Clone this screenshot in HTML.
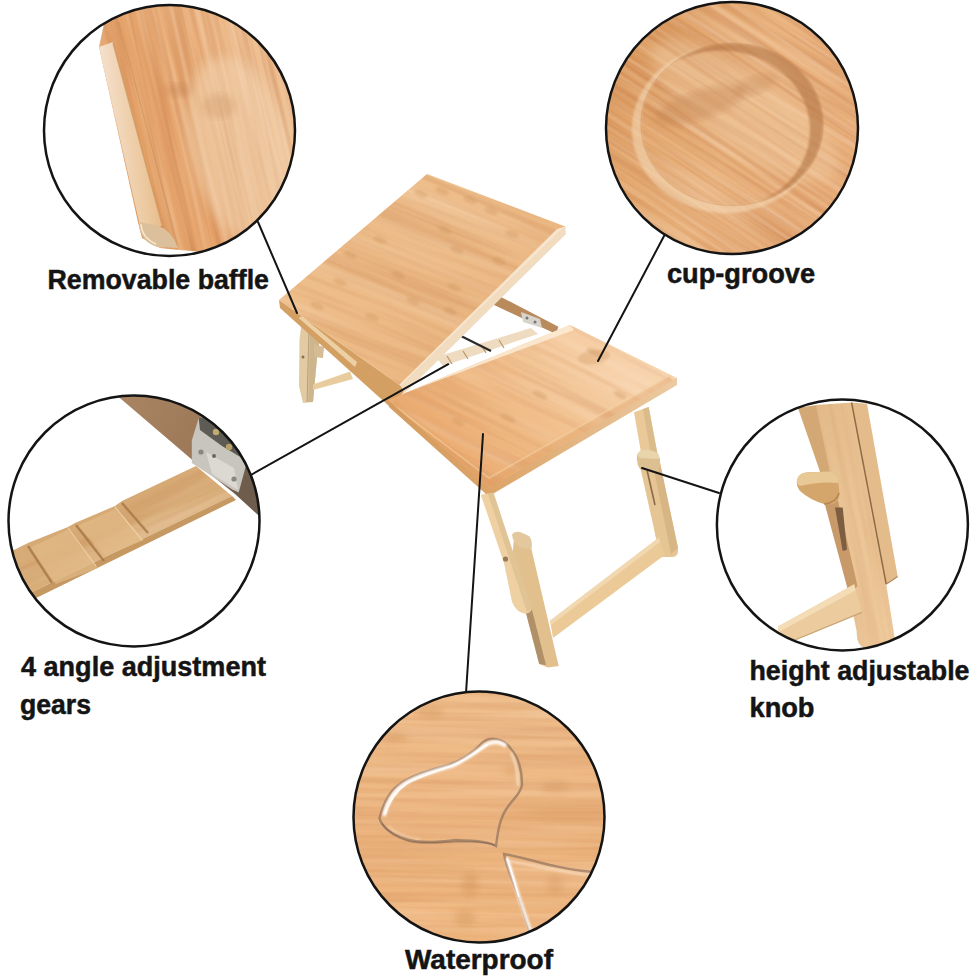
<!DOCTYPE html>
<html><head><meta charset="utf-8">
<style>
html,body{margin:0;padding:0;background:#fff;}
body{width:977px;height:977px;overflow:hidden;}
svg{display:block;}
text{font-family:"Liberation Sans",sans-serif;font-weight:bold;fill:#141414;stroke:#141414;stroke-width:0.5;}
</style></head>
<body>
<svg width="977" height="977" viewBox="0 0 977 977">
<defs>
  <clipPath id="c1"><circle cx="169.5" cy="130.5" r="125.5"/></clipPath>
  <clipPath id="c2"><circle cx="732" cy="128" r="126"/></clipPath>
  <clipPath id="c3"><circle cx="134" cy="521" r="125.5"/></clipPath>
  <clipPath id="c4"><circle cx="842.4" cy="525" r="125.5"/></clipPath>
  <clipPath id="c5"><circle cx="479" cy="817" r="125.5"/></clipPath>
  <clipPath id="ctilt"><polygon points="427,174 565.3,226.5 401,386 279,300"/></clipPath>
  <clipPath id="cflat"><polygon points="388,400 570,325 677,378 489,488"/></clipPath>
  <clipPath id="cw1"><polygon points="104,24 99,47 138,222 142,238 160,248 180,250 300,260 300,0 110,0"/></clipPath>

  <filter id="gD" x="0" y="0" width="100%" height="100%" color-interpolation-filters="sRGB">
    <feTurbulence type="fractalNoise" baseFrequency="0.004 0.10" numOctaves="3" seed="4"/>
    <feColorMatrix type="matrix" values="0 0 0 0 0.72  0 0 0 0 0.40  0 0 0 0 0.20  1.3 0 0 0 -0.56"/>
  </filter>
  <filter id="gL" x="0" y="0" width="100%" height="100%" color-interpolation-filters="sRGB">
    <feTurbulence type="fractalNoise" baseFrequency="0.004 0.08" numOctaves="2" seed="9"/>
    <feColorMatrix type="matrix" values="0 0 0 0 1  0 0 0 0 0.92  0 0 0 0 0.84  1.3 0 0 0 -0.58"/>
  </filter>
  <filter id="gDf" x="0" y="0" width="100%" height="100%" color-interpolation-filters="sRGB">
    <feTurbulence type="fractalNoise" baseFrequency="0.005 0.2" numOctaves="3" seed="7"/>
    <feColorMatrix type="matrix" values="0 0 0 0 0.72  0 0 0 0 0.40  0 0 0 0 0.20  1.4 0 0 0 -0.6"/>
  </filter>
  <filter id="gLf" x="0" y="0" width="100%" height="100%" color-interpolation-filters="sRGB">
    <feTurbulence type="fractalNoise" baseFrequency="0.005 0.16" numOctaves="2" seed="12"/>
    <feColorMatrix type="matrix" values="0 0 0 0 1  0 0 0 0 0.92  0 0 0 0 0.84  1.4 0 0 0 -0.62"/>
  </filter>
  <filter id="blur1"><feGaussianBlur stdDeviation="1"/></filter>
  <filter id="blur3"><feGaussianBlur stdDeviation="3"/></filter>
  <filter id="blur6"><feGaussianBlur stdDeviation="6"/></filter>

  <linearGradient id="gTilt" x1="0" y1="0" x2="1" y2="1">
    <stop offset="0" stop-color="#efc18e"/>
    <stop offset="0.6" stop-color="#ecba86"/>
    <stop offset="1" stop-color="#e6b07a"/>
  </linearGradient>
  <linearGradient id="gFlat" x1="0" y1="0.5" x2="1" y2="0">
    <stop offset="0" stop-color="#eaa86c"/>
    <stop offset="0.45" stop-color="#f2c290"/>
    <stop offset="1" stop-color="#fadcbc"/>
  </linearGradient>
  <linearGradient id="gFlatEdge" x1="0" y1="0" x2="1" y2="0">
    <stop offset="0" stop-color="#d49a5e"/>
    <stop offset="0.35" stop-color="#dca468"/>
    <stop offset="1" stop-color="#eccaa2"/>
  </linearGradient>
  <linearGradient id="gBaf" x1="0" y1="0" x2="1" y2="-0.25">
    <stop offset="0" stop-color="#f4e0cc"/>
    <stop offset="0.5" stop-color="#ecc89e"/>
    <stop offset="1" stop-color="#e0aa70"/>
  </linearGradient>
  <linearGradient id="gC1" x1="0" y1="0.7" x2="1" y2="0.3">
    <stop offset="0" stop-color="#dc985a"/>
    <stop offset="0.5" stop-color="#e8a870"/>
    <stop offset="1" stop-color="#f0c69c"/>
  </linearGradient>
  <linearGradient id="gC2" x1="0" y1="0.3" x2="1" y2="0.7">
    <stop offset="0" stop-color="#dc9c60"/>
    <stop offset="0.5" stop-color="#ebb682"/>
    <stop offset="1" stop-color="#e8ae7a"/>
  </linearGradient>
  <linearGradient id="gC5" x1="0" y1="0" x2="0" y2="1">
    <stop offset="0" stop-color="#f0c08e"/>
    <stop offset="0.5" stop-color="#edb680"/>
    <stop offset="1" stop-color="#f0b880"/>
  </linearGradient>
  <linearGradient id="gRail" x1="0" y1="0" x2="1" y2="0.5">
    <stop offset="0" stop-color="#a98563"/>
    <stop offset="0.65" stop-color="#9c7858"/>
    <stop offset="1" stop-color="#6e5c4c"/>
  </linearGradient>
  <linearGradient id="gLeg4" x1="0" y1="0" x2="1" y2="0">
    <stop offset="0" stop-color="#e2b886"/>
    <stop offset="1" stop-color="#f0cc9e"/>
  </linearGradient>
</defs>
<rect width="977" height="977" fill="#fff"/>

<!-- TABLE_START -->
<g id="table">
  <!-- back-left legs -->
  <polygon points="301,327 321,332 317,358 313,402 303,403 299,386 299.5,340" fill="#e2caa2"/>
  <polygon points="310,331 321,332 317,358 313,402 308,402" fill="#cdb68e"/>
  <line x1="309" y1="331" x2="307" y2="402" stroke="#b89e78" stroke-width="1"/>
  <polygon points="314,344 324,347 323,358 314,357" fill="#d6bc94"/>
  <circle cx="303" cy="357" r="1.5" fill="#8a7050"/>
  <polygon points="313,384.5 350,371.5 353,379 313,390" fill="#e8cc9e"/>
  <!-- rail behind -->
  <polygon points="492,304 501,297 558.4,326.7 556,334" fill="#b88a5c"/>
  <polygon points="521,312 540,319 542,328 523,322" fill="#d8d4cc"/>
  <circle cx="527" cy="318" r="1.5" fill="#777"/><circle cx="535" cy="322" r="1.5" fill="#777"/>
  <!-- gear strip -->
  <polygon points="436,357 531,328 538,334 443,366" fill="#efdcc0"/>
  <g stroke="#b89868" stroke-width="1.2">
    <line x1="447" y1="356" x2="452" y2="364"/>
    <line x1="463" y1="351" x2="468" y2="359"/>
    <line x1="481" y1="345" x2="486" y2="353"/>
    <line x1="499" y1="340" x2="504" y2="348"/>
  </g>
  <line x1="459" y1="335" x2="491" y2="351" stroke="#2a2a2a" stroke-width="2.2"/>
  <!-- tilted panel: thickness -->
  <polygon points="279,300 280,308 389,406 404,392 401,386" fill="#d49f62"/>
  <polygon points="565.3,226.5 566,234 405,393 401,386" fill="#f2dcc0"/>
  <!-- tilted panel top -->
  <polygon points="427,174 565.3,226.5 401,386 279,300" fill="url(#gTilt)"/>
  <g clip-path="url(#ctilt)">
    <g transform="rotate(22 420 280)">
      <rect x="220" y="120" width="400" height="320" filter="url(#gD)" opacity="0.45"/>
      <rect x="220" y="120" width="400" height="320" filter="url(#gL)" opacity="0.55"/>
    </g>
    <g fill="#c48a52" opacity="0.26" filter="url(#blur1)">
      <ellipse cx="421" cy="194" rx="7" ry="3.2" transform="rotate(22 421 194)"/>
      <ellipse cx="442" cy="191" rx="7" ry="3.2" transform="rotate(22 442 191)"/>
      <ellipse cx="491" cy="211" rx="7" ry="3.2" transform="rotate(22 491 211)"/>
      <ellipse cx="524" cy="193" rx="7" ry="3.2" transform="rotate(22 524 193)"/>
      <ellipse cx="535" cy="208" rx="7" ry="3.2" transform="rotate(22 535 208)"/>
      <ellipse cx="512" cy="234" rx="7" ry="3.2" transform="rotate(22 512 234)"/>
      <ellipse cx="445" cy="230" rx="7" ry="3.2" transform="rotate(22 445 230)"/>
      <ellipse cx="457" cy="250" rx="7" ry="3.2" transform="rotate(22 457 250)"/>
      <ellipse cx="398" cy="275" rx="7" ry="3.2" transform="rotate(22 398 275)"/>
      <ellipse cx="413" cy="301" rx="7" ry="3.2" transform="rotate(22 413 301)"/>
      <ellipse cx="450" cy="311" rx="7" ry="3.2" transform="rotate(22 450 311)"/>
      <ellipse cx="499" cy="261" rx="7" ry="3.2" transform="rotate(22 499 261)"/>
      <ellipse cx="340" cy="282" rx="7" ry="3.2" transform="rotate(22 340 282)"/>
      <ellipse cx="372" cy="317" rx="7" ry="3.2" transform="rotate(22 372 317)"/>
      <ellipse cx="317" cy="306" rx="7" ry="3.2" transform="rotate(22 317 306)"/>
      <ellipse cx="454" cy="287" rx="7" ry="3.2" transform="rotate(22 454 287)"/>
      <ellipse cx="470" cy="200" rx="7" ry="3.2" transform="rotate(22 470 200)"/>
      <ellipse cx="380" cy="240" rx="7" ry="3.2" transform="rotate(22 380 240)"/>
      <ellipse cx="350" cy="255" rx="7" ry="3.2" transform="rotate(22 350 255)"/>
    </g>
    <!-- light right edge -->
    <polygon points="565.3,226.5 557,229 395,389 401,386" fill="#f6e4cc"/>
  </g>
  <!-- baffle strip -->
  <polygon points="298.6,318 302,316 357,362 355,367" fill="#ecd0a4"/>
  <!-- flat panel thickness -->
  <polygon points="388,400 389,407 487,495 491,495 677,385 677,378" fill="url(#gFlatEdge)"/>
  <!-- flat panel top -->
  <polygon points="388,400 570,325 677,378 489,488" fill="url(#gFlat)"/>
  <g clip-path="url(#cflat)">
    <g transform="rotate(26 530 405)">
      <rect x="330" y="280" width="400" height="250" filter="url(#gD)" opacity="0.4"/>
      <rect x="330" y="280" width="400" height="250" filter="url(#gL)" opacity="0.5"/>
    </g>
    <g fill="#d09a60" opacity="0.4" filter="url(#blur1)">
      <ellipse cx="595" cy="353" rx="9" ry="3" transform="rotate(26 595 353)"/>
      <ellipse cx="540" cy="395" rx="8" ry="3" transform="rotate(26 540 395)"/>
      <ellipse cx="508" cy="418" rx="8" ry="3" transform="rotate(26 508 418)"/>
      <ellipse cx="458" cy="422" rx="7" ry="3" transform="rotate(26 458 422)"/>
      <ellipse cx="620" cy="395" rx="7" ry="3" transform="rotate(26 620 395)"/>
    </g>
    <polygon points="401,386 570,325 574,330 405,393" fill="#fbecd6" opacity="0.85"/>
    <ellipse cx="594" cy="357" rx="16" ry="7" fill="#d49a62" opacity="0.35" filter="url(#blur1)" transform="rotate(-8 594 357)"/>
    <!-- rim highlight -->
    <polyline points="392,404 489,484 672,380" fill="none" stroke="#dc9c5e" stroke-width="9" opacity="0.35" filter="url(#blur1)"/>
    <polyline points="397,408 489,478 668,376" fill="none" stroke="#f6d8ac" stroke-width="1.6" opacity="0.5"/>
  </g>
  <!-- front-left leg: lower piece (behind) -->
  <polygon points="513.9,539.5 531.5,549.2 558.7,666 548,667.5 539.2,664 525.6,611.5 512,560" fill="#e2c08e"/>
  <polygon points="525.6,611.5 532,610 546,665 539.2,664" fill="#b09068"/>
  <!-- knob -->
  <path d="M512,535 Q514,531 520,532 L529,536 Q533,540 531.5,549 L522,548 Q513,544 512,535 Z" fill="#e2c89c"/>
  <!-- upper piece (front) -->
  <path d="M480.8,494.7 L493.5,492.8 L521.7,578.4 L531.5,609.6 Q530,614 524,613.5 Q516,612 512,601.8 L504,562.9 Z" fill="#eed0a2"/>
  <polygon points="488,494 493.5,492.8 521.7,578.4 531.5,609.6 527,612" fill="#dcc092" opacity="0.8"/>
  <circle cx="505.5" cy="559" r="2.6" fill="#9a7a56"/>
  <!-- front-right leg -->
  <path d="M634,412.2 L648.7,407 L675.7,551.5 Q676,557 672.2,556.7 L661,556 Q658,554 658.3,551.5 Z" fill="#eac898"/>
  <polygon points="643,409 648.7,407 675.7,551.5 668,554" fill="#d6b888" opacity="0.8"/>
  <path d="M639,462 L659,458 L678,548 Q679,556 673,557 L662,557 Q659,555 659,551 Z" fill="#e6c594"/>
  <polygon points="652,460 659,458 678,548 671,554" fill="#d4b080" opacity="0.8"/>
  <line x1="647" y1="470" x2="655" y2="505" stroke="#8a6a48" stroke-width="1.6"/>
  <path d="M637,455 Q640,449 648,449.6 L656,452 Q661,456 660,466 L658,471 L642,471 Q636,466 637,455 Z" fill="#dcc092"/>
  <path d="M637,455 Q640,449 648,449.6 L656,452 Q660,455 659,459 L640,458 Z" fill="#ead4ac"/>
  <!-- crossbar -->
  <polygon points="550,620.7 659,537.6 665,554.8 553,638" fill="#ebca98"/>
  <polygon points="550,620.7 659,537.6 660,542 551,625" fill="#f2d8b0"/>
</g>
<!-- TABLE_END -->

<!-- ============ CALLOUT LINES ============ -->
<g stroke="#141414" stroke-width="2" fill="none" stroke-linecap="round">
  <line x1="258" y1="222" x2="297" y2="313"/>
  <line x1="664.3" y1="235.5" x2="598" y2="361"/>
  <line x1="249" y1="476" x2="448.3" y2="364.2"/>
  <line x1="642" y1="468" x2="719" y2="493"/>
  <line x1="483" y1="434" x2="466" y2="693"/>
</g>

<!-- C1_START -->
<g clip-path="url(#c1)">
  <rect x="40" y="0" width="260" height="260" fill="#fff"/>
  <g clip-path="url(#cw1)">
    <rect x="40" y="0" width="260" height="260" fill="url(#gC1)"/>
    <g transform="rotate(77 170 130)">
      <rect x="20" y="-20" width="300" height="300" filter="url(#gD)" opacity="0.45"/>
      <rect x="20" y="-20" width="300" height="300" filter="url(#gDf)" opacity="0.45"/>
      <rect x="20" y="-20" width="300" height="300" filter="url(#gLf)" opacity="0.55"/>
    </g>
    <!-- soft highlight -->
    <ellipse cx="240" cy="150" rx="50" ry="95" fill="#f4dcbc" opacity="0.45" filter="url(#blur6)" transform="rotate(-14 240 150)"/>
    <ellipse cx="178" cy="90" rx="13" ry="7" fill="#c08050" opacity="0.35" filter="url(#blur3)"/>
    <ellipse cx="219" cy="106" rx="17" ry="12" fill="#c08050" opacity="0.22" filter="url(#blur3)"/>
  </g>
  <!-- baffle strip (lighter) -->
  <polygon points="99,47 113,42 163,226 140,226" fill="url(#gBaf)"/>
  <line x1="113" y1="43" x2="163" y2="228" stroke="#c4874a" stroke-width="1.4" opacity="0.6"/>
  <line x1="119" y1="22" x2="178" y2="247" stroke="#c4874a" stroke-width="1.2" opacity="0.45"/>
  <!-- baffle bottom rounded end -->
  <path d="M139,222 Q139,241 157,247 L178,248 Q172,231 159,226 Z" fill="#dcc09c"/>
  <path d="M141,224 Q142,238 156,244" fill="none" stroke="#f8e8d0" stroke-width="1.5"/>
</g>
<!-- C1_END -->
<circle cx="169.5" cy="130.5" r="125.5" fill="none" stroke="#141414" stroke-width="2.5"/>

<!-- C2_START -->
<mask id="mCres">
  <rect x="590" y="0" width="280" height="260" fill="#000"/>
  <ellipse cx="732" cy="124.5" rx="91" ry="81" fill="#fff"/>
  <ellipse cx="721" cy="130" rx="89" ry="79.5" fill="#000"/>
</mask>
<mask id="mRim">
  <rect x="590" y="0" width="280" height="260" fill="#000"/>
  <ellipse cx="726" cy="129" rx="94" ry="84" fill="#fff"/>
  <ellipse cx="732" cy="124.5" rx="91" ry="81" fill="#000"/>
</mask>
<g clip-path="url(#c2)">
  <rect x="600" y="0" width="265" height="260" fill="url(#gC2)"/>
  <g transform="rotate(33 732 128)">
    <rect x="560" y="-50" width="350" height="360" filter="url(#gD)" opacity="0.45"/>
    <rect x="560" y="-50" width="350" height="360" filter="url(#gDf)" opacity="0.5"/>
    <rect x="560" y="-50" width="350" height="360" filter="url(#gLf)" opacity="0.6"/>
  </g>
  <!-- light central band -->
  <ellipse cx="745" cy="110" rx="40" ry="110" fill="#f4d4ac" opacity="0.35" filter="url(#blur6)" transform="rotate(-55 745 110)"/>
  <!-- node mottled -->
  <ellipse cx="700" cy="105" rx="48" ry="14" fill="#c08050" opacity="0.35" filter="url(#blur3)" transform="rotate(-18 700 105)"/>
  <ellipse cx="755" cy="85" rx="22" ry="9" fill="#c08050" opacity="0.3" filter="url(#blur3)" transform="rotate(-18 755 85)"/>
  <!-- groove shadow crescent -->
  <g filter="url(#blur1)"><rect x="590" y="0" width="280" height="260" fill="#b47444" opacity="0.62" mask="url(#mCres)"/></g>
  <!-- groove rim highlight -->
  <g filter="url(#blur1)"><rect x="590" y="0" width="280" height="260" fill="#f8e0c0" opacity="0.5" mask="url(#mRim)"/></g>
  <ellipse cx="732" cy="124.5" rx="91" ry="81" fill="none" stroke="#c48a58" stroke-width="0.8" opacity="0.4"/>
</g>
<!-- C2_END -->
<circle cx="732" cy="128" r="126" fill="none" stroke="#141414" stroke-width="2.5"/>

<!-- C3_START -->
<g clip-path="url(#c3)">
  <rect x="5" y="390" width="260" height="260" fill="#fff"/>
  <!-- brown rail -->
  <polygon points="118.7,397 191.8,459.6 235,494 258,515 262,390" fill="url(#gRail)"/>
  <!-- gear strip -->
  <polygon points="10,552 28,543 68,527 75,523 115,506 122,501 196,466 232,496 26,595 10,600" fill="#d8ad78"/>
  <clipPath id="cStrip"><polygon points="10,552 28,543 68,527 75,523 115,506 122,501 196,466 232,496 26,595 10,600"/></clipPath>
  <g clip-path="url(#cStrip)">
    <g transform="rotate(-25 120 530)">
      <rect x="-20" y="440" width="300" height="180" filter="url(#gL)" opacity="0.5"/>
      <rect x="-20" y="440" width="300" height="180" filter="url(#gD)" opacity="0.3"/>
    </g>
  </g>
  <polygon points="26,595 232,496 236,500 30,601" fill="#c69862"/>
  <g fill="#e2bb88" opacity="0.7">
    <polygon points="30,548 68,530 98,568 56,584"/>
    <polygon points="78,526 115,509 144,540 106,556"/>
  </g>
  <g stroke="#a87a48" stroke-width="2.4" opacity="0.85">
    <line x1="28" y1="546" x2="52" y2="583"/>
    <line x1="76" y1="525" x2="104" y2="561"/>
    <line x1="122" y1="503" x2="148" y2="533"/>
  </g>
  <g stroke="#f0d8b0" stroke-width="1.2" opacity="0.8">
    <line x1="68" y1="528" x2="96" y2="566"/>
    <line x1="115" y1="507" x2="142" y2="540"/>
  </g>
  <!-- bracket -->
  <polygon points="191.8,440.5 198.7,418 207.4,416 231.8,438.7 245.7,466.5 238.7,492.6 231.8,489.2 191.8,463" fill="#c8c4be"/>
  <polygon points="198.7,418 207.4,416 231.8,438.7 242,458 222,446 200,430" fill="#5e5a54"/>
  <polygon points="206,452 234,468 238,490 212,474" fill="#dcd8d2"/>
  <circle cx="216" cy="432" r="3.2" fill="#c0ac70"/>
  <circle cx="229" cy="447" r="3.2" fill="#b8a068"/>
  <circle cx="201" cy="452" r="2.6" fill="#8a8680"/>
  <circle cx="234" cy="479" r="2.6" fill="#8a8680"/>
  <circle cx="214" cy="456" r="2" fill="#6a6660"/>
</g>
<!-- C3_END -->
<circle cx="134" cy="521" r="125.5" fill="none" stroke="#141414" stroke-width="2.5"/>

<!-- C4_START -->
<g clip-path="url(#c4)">
  <rect x="712" y="395" width="262" height="262" fill="#fff"/>
  <!-- back narrow piece -->
  <polygon points="797.9,407.7 817,405 834,490 822,492 820.9,474.2" fill="#d4a874"/>
  <!-- right strip -->
  <polygon points="851.6,402.6 867.0,403.8 897.7,576.6 886.2,584.2" fill="#e4bc8c"/>
  <!-- main front piece -->
  <path id="leg4main" d="M815.8,405.1 L851.6,402.6 L886.2,584.2 L895.1,640.5 L890,648 L864,648 Q856,644 856.8,632 L849.1,594.5 L835,497.2 Z" fill="url(#gLeg4)"/>
  <clipPath id="cLeg4"><path d="M815.8,405.1 L851.6,402.6 L886.2,584.2 L895.1,640.5 L890,648 L864,648 Q856,644 856.8,632 L849.1,594.5 L835,497.2 Z"/></clipPath>
  <g clip-path="url(#cLeg4)">
    <g transform="rotate(79 850 520)">
      <rect x="700" y="440" width="300" height="160" filter="url(#gD)" opacity="0.3"/>
      <rect x="700" y="440" width="300" height="160" filter="url(#gL)" opacity="0.35"/>
    </g>
  </g>
  <!-- slot piece -->
  <polygon points="821,490 835,488 857.5,586 849.1,594.5" fill="#c89a6a"/>
  <polygon points="835,507.5 842.7,507.5 847,549.7 842.7,551" fill="#7e5e40"/>
  <line x1="851.6" y1="402.6" x2="886.2" y2="584.2" stroke="#8e6a44" stroke-width="1.5"/>
  <line x1="886.2" y1="584.2" x2="897.7" y2="576.6" stroke="#b08a5c" stroke-width="1.2"/>
  <!-- knob -->
  <path d="M797,480 Q799,473 806,472.5 L829,471.5 Q836,472 838,478 L839.5,494 Q839,503 832,504.5 L824,504 Q810,500 800,491 Q796,486 797,480 Z" fill="#d4a66c"/>
  <path d="M797,480 Q799,473 806,472.5 L829,471.5 Q836,472 838,478 L838.5,483 Q820,481 800,486 Q796,484 797,480 Z" fill="#e8c894"/>
  <path d="M824,504 Q836,503 839,493" fill="none" stroke="#b88650" stroke-width="1.6"/>
  <!-- crossbar -->
  <polygon points="778,626.5 854.2,584.2 861.9,612.4 778,647" fill="#eccc9e"/>
  <polygon points="778,626.5 854.2,584.2 855.5,590.6 778,632.5" fill="#f4dcb6"/>
  <line x1="778" y1="647" x2="861.9" y2="612.4" stroke="#c8a474" stroke-width="1.2"/>
</g>
<!-- C4_END -->
<circle cx="842.4" cy="525" r="125.5" fill="none" stroke="#141414" stroke-width="2.5"/>

<!-- C5_START -->
<g clip-path="url(#c5)">
  <rect x="350" y="688" width="260" height="260" fill="url(#gC5)"/>
  <g transform="rotate(1 479 817)">
    <rect x="330" y="670" width="300" height="300" filter="url(#gD)" opacity="0.3"/>
    <rect x="330" y="670" width="300" height="300" filter="url(#gDf)" opacity="0.25"/>
    <rect x="330" y="670" width="300" height="300" filter="url(#gL)" opacity="0.5"/>
  </g>
  <g fill="#c98a50" opacity="0.3" filter="url(#blur3)">
    <ellipse cx="430" cy="712" rx="14" ry="6"/>
    <ellipse cx="395" cy="738" rx="12" ry="5"/>
    <ellipse cx="470" cy="885" rx="8" ry="12"/>
    <ellipse cx="465" cy="918" rx="10" ry="8"/>
    <ellipse cx="555" cy="787" rx="14" ry="5"/>
    <ellipse cx="512" cy="770" rx="8" ry="6"/>
    <ellipse cx="555" cy="885" rx="8" ry="10"/>
  </g>
  <!-- droplet 1 -->
  <path id="d1" d="M379.5,818 C383,805 390,790 400,784 C410,776 430,770 445,766 C458,762 470,756 483,742 C490,737 503,737 511,749 C518,756 522,770 522,785 C520,795 512,800 507,808 C500,818 498,830 496,846 C490,842 480,841 455,840 C440,842 420,844 406,839 C394,835 382,828 379.5,818 Z" fill="#f2c496" fill-opacity="0.18" stroke="#806858" stroke-width="2.4" stroke-opacity="0.6"/>
  <path d="M382,822 C388,831 398,837 410,840 C424,843 442,841 458,840 C478,840 488,841 495,844" fill="none" stroke="#7a6050" stroke-width="1.4" opacity="0.5" transform="translate(0,1.5)"/>
  <g filter="url(#blur1)">
  <path d="M384,816 C387,803 394,791 404,784 C418,775 438,770 452,766 C466,760 476,752 486,745 C492,741 500,741 506,746" fill="none" stroke="#ffffff" stroke-width="3.6" opacity="0.95"/>
  <path d="M511,753 C516,762 518,774 518,786" fill="none" stroke="#fff6ea" stroke-width="2" opacity="0.7"/>
  <path d="M388,826 C396,834 408,838 420,839" fill="none" stroke="#fff2e0" stroke-width="1.6" opacity="0.5"/>
  </g>
  <path d="M385,814 C389,802 396,791 406,784 C420,776 440,770 454,765 C468,759 478,751 488,744" fill="none" stroke="#ffffff" stroke-width="1.6" opacity="0.95"/>
  <!-- droplet 2 -->
  <path d="M504,854 C515,856 530,860 550,865 C565,868 578,872 600,872 L620,960 L540,960 C530,935 524,915 518,895 C512,880 506,866 504,854 Z" fill="#f2c496" fill-opacity="0.15" stroke="#806858" stroke-width="2.4" stroke-opacity="0.6"/>
  <g filter="url(#blur1)">
  <path d="M507,858 C511,870 515,884 519,897 C524,912 528,925 533,936" fill="none" stroke="#ffffff" stroke-width="3.2" opacity="0.9"/>
  <path d="M510,859 C526,862 546,866 572,871 C580,872 590,873 600,873" fill="none" stroke="#fff4e6" stroke-width="1.8" opacity="0.6" transform="translate(0,2)"/>
  </g>
  <path d="M507,858 C511,870 515,884 519,897" fill="none" stroke="#ffffff" stroke-width="1.4"/>
</g>
<!-- C5_END -->
<circle cx="479" cy="817" r="125.5" fill="none" stroke="#141414" stroke-width="2.5"/>

<!-- ============ LABELS ============ -->
<text x="47.5" y="289.2" font-size="27" textLength="221.5" lengthAdjust="spacingAndGlyphs">Removable baffle</text>
<text x="667" y="282.7" font-size="27" textLength="148" lengthAdjust="spacingAndGlyphs">cup-groove</text>
<text x="21" y="676.2" font-size="27" textLength="245" lengthAdjust="spacingAndGlyphs">4 angle adjustment</text>
<text x="20" y="713.7" font-size="27" textLength="71" lengthAdjust="spacingAndGlyphs">gears</text>
<text x="749.5" y="679.7" font-size="27" textLength="220" lengthAdjust="spacingAndGlyphs">height adjustable</text>
<text x="749.5" y="717.4" font-size="27" textLength="65" lengthAdjust="spacingAndGlyphs">knob</text>
<text x="405" y="969.0" font-size="27" textLength="148" lengthAdjust="spacingAndGlyphs">Waterproof</text>
</svg>
</body></html>
